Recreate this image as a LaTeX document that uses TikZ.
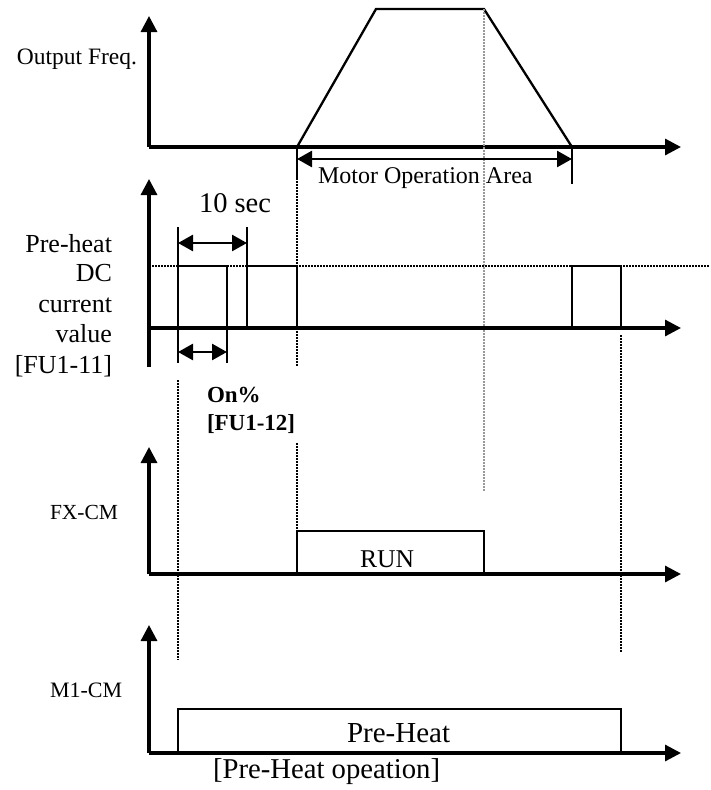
\documentclass[tikz,border=0pt]{standalone}
\usepackage{fontspec}
\setmainfont{Liberation Serif}
\usetikzlibrary{arrows.meta}
\begin{document}
\begin{tikzpicture}[x=1pt,y=-1pt,
  axis/.style={line width=3.2pt,-{Triangle[length=16pt,width=16pt]}},
  sig/.style={line width=2.3pt},
  thin sig/.style={line width=1.8pt},
  dimarrow/.style={line width=2.6pt,{Triangle[length=15pt,width=16pt]}-{Triangle[length=15pt,width=16pt]}},
  dots/.style={line width=1.6pt,dash pattern=on 1.5pt off 1.5pt},
  gdots/.style={line width=1.4pt,black!40,dash pattern=on 1.5pt off 1.5pt},
  lbl/.style={inner sep=0pt,outer sep=0pt}
]
\useasboundingbox (0,0) rectangle (710,790);

% ---------- Plot 1: Output frequency ----------
\coordinate (o1) at (149,147);
\coordinate (y1) at (149,16);
\coordinate (x1) at (681,147);
\draw[axis] (o1) -- (y1);
\draw[axis] (o1) -- (x1);
\coordinate (t1) at (297,147);
\coordinate (t2) at (376,9);
\coordinate (t3) at (484,9);
\coordinate (t4) at (572,147);
\draw[sig,line join=miter] (t1) -- (t2) -- (t3) -- (t4);
\node[lbl,anchor=base east,font=\fontsize{23.5}{28}\selectfont] (ofreq) at (137,64) {Output Freq.};

% gray dotted guide
\coordinate (g1) at (484,9);
\coordinate (g2) at (484,491);
\draw[gdots] (g1) -- (g2);

% motor operation area
\coordinate (ma1) at (297,178);
\coordinate (ma2) at (572,184);
\draw[thin sig] (t1) -- (ma1);
\draw[thin sig] (t4) -- (ma2);
\coordinate (mal) at (297,159);
\coordinate (mar) at (572,159);
\draw[dimarrow] (mal) -- (mar);
\node[lbl,anchor=base west,font=\fontsize{24}{28}\selectfont] (moa) at (318,183) {Motor Operation Area};

% black dotted at start of run
\coordinate (d1a) at (297,178);
\coordinate (d1b) at (297,367);
\coordinate (d1c) at (297,443);
\coordinate (d1d) at (297,530);
\draw[dots] (d1a) -- (d1b);
\draw[dots] (d1c) -- (d1d);

% ---------- Plot 2: Pre-heat DC current ----------
\coordinate (o2) at (149,328);
\coordinate (b2) at (149,367);
\coordinate (y2) at (149,179);
\coordinate (x2) at (681,328);
\draw[axis] (b2) -- (y2);
\draw[axis] (o2) -- (x2);
\coordinate (lv1) at (149,266);
\coordinate (lv2) at (710,266);
\draw[dots] (lv1) -- (lv2);

% pulses
\coordinate (p1a) at (178,227);
\coordinate (p1b) at (178,363);
\coordinate (p1c) at (227,266);
\coordinate (p1d) at (227,363);
\draw[thin sig] (p1a) -- (p1b);
\draw[thin sig] (178,266) -- (p1c) -- (p1d);
\coordinate (p2a) at (247,227);
\coordinate (p2b) at (247,328);
\coordinate (p2c) at (297,266);
\coordinate (p2d) at (297,328);
\draw[thin sig] (p2a) -- (p2b);
\draw[sig] (247,266) -- (p2c);
\draw[thin sig] (p2c) -- (p2d);
\coordinate (p3a) at (572,328);
\coordinate (p3b) at (572,266);
\coordinate (p3c) at (621,266);
\coordinate (p3d) at (621,328);
\draw[thin sig] (p3a) -- (p3b) -- (p3c) -- (p3d);

% 10 sec
\coordinate (ts1) at (178,243);
\coordinate (ts2) at (247,243);
\draw[dimarrow] (ts1) -- (ts2);
\node[lbl,anchor=base west,font=\fontsize{28.5}{34}\selectfont] (tensec) at (199,212) {10 sec};

% On%
\coordinate (on1) at (178,352);
\coordinate (on2) at (227,352);
\draw[dimarrow] (on1) -- (on2);
\node[lbl,anchor=base west,font=\bfseries\fontsize{23}{28}\selectfont] (onp) at (207,402) {On\%};
\node[lbl,anchor=base west,font=\bfseries\fontsize{23}{28}\selectfont] (fu12) at (207,430) {[FU1-12]};

% label lines
\node[lbl,anchor=base east,font=\fontsize{26}{30}\selectfont] (ph1) at (112,252) {Pre-heat};
\node[lbl,anchor=base east,font=\fontsize{26}{30}\selectfont] (ph2) at (112,281) {DC};
\node[lbl,anchor=base east,font=\fontsize{26}{30}\selectfont] (ph3) at (112,312) {current};
\node[lbl,anchor=base east,font=\fontsize{26}{30}\selectfont] (ph4) at (112,342) {value};
\node[lbl,anchor=base east,font=\fontsize{26}{30}\selectfont] (ph5) at (112,373) {[FU1-11]};

% dotted guides
\coordinate (d2a) at (178,380);
\coordinate (d2b) at (178,660);
\draw[dots] (d2a) -- (d2b);
\coordinate (d3a) at (621,335);
\coordinate (d3b) at (621,652);
\draw[dots] (d3a) -- (d3b);

% ---------- Plot 3: FX-CM ----------
\coordinate (o3) at (149,574);
\coordinate (y3) at (149,447);
\coordinate (x3) at (681,574);
\draw[axis] (o3) -- (y3);
\draw[axis] (o3) -- (x3);
\coordinate (r1) at (297,574);
\coordinate (r2) at (297,531);
\coordinate (r3) at (484,531);
\coordinate (r4) at (484,574);
\draw[sig] (r1) -- (r2) -- (r3) -- (r4);
\node[lbl,anchor=base west,font=\fontsize{25.6}{30}\selectfont] (run) at (360,567) {RUN};
\node[lbl,anchor=base west,font=\fontsize{21.5}{26}\selectfont] (fxcm) at (50,519) {FX-CM};

% ---------- Plot 4: M1-CM ----------
\coordinate (o4) at (149,753);
\coordinate (y4) at (149,625);
\coordinate (x4) at (681,753);
\draw[axis] (o4) -- (y4);
\draw[axis] (o4) -- (x4);
\coordinate (h1) at (178,753);
\coordinate (h2) at (178,709);
\coordinate (h3) at (621,709);
\coordinate (h4) at (621,753);
\draw[sig] (h1) -- (h2) -- (h3) -- (h4);
\node[lbl,anchor=base west,font=\fontsize{29}{34}\selectfont] (preheat) at (347,742) {Pre-Heat};
\node[lbl,anchor=base west,font=\fontsize{22}{26}\selectfont] (m1cm) at (50,697) {M1-CM};
\node[lbl,anchor=base west,font=\fontsize{28.7}{34}\selectfont] (caption) at (213,778) {[Pre-Heat opeation]};
\end{tikzpicture}
\end{document}
